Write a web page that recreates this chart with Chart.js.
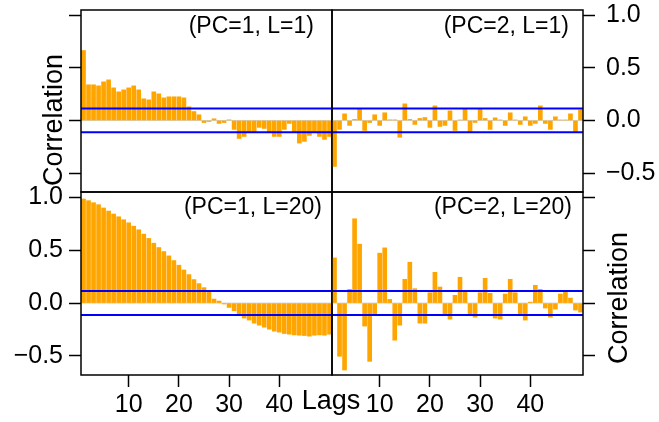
<!DOCTYPE html>
<html>
<head>
<meta charset="utf-8">
<script src="https://cdn.jsdelivr.net/npm/chart.js@4.4.1/dist/chart.umd.min.js"></script>
<style>
  html, body { margin: 0; padding: 0; background: #ffffff; }
  #wrap { position: relative; width: 659px; height: 422px; overflow: hidden; background: #ffffff; }
  #wrap canvas { position: absolute; left: 0; top: 0; }
</style>
</head>
<body>
<div id="wrap">
  <canvas id="pTL" width="659" height="422"></canvas>
  <canvas id="pTR" width="659" height="422"></canvas>
  <canvas id="pBL" width="659" height="422"></canvas>
  <canvas id="pBR" width="659" height="422"></canvas>
</div>
<script>
// ---------------- data ----------------
const lags = [1,2,3,4,5,6,7,8,9,10,11,12,13,14,15,16,17,18,19,20,21,22,23,24,25,
              26,27,28,29,30,31,32,33,34,35,36,37,38,39,40,41,42,43,44,45,46,47,48,49,50];

const acfPC1L1 = [0.665, 0.339, 0.339, 0.329, 0.367, 0.386, 0.310, 0.272, 0.291, 0.310,
                  0.329, 0.291, 0.206, 0.196, 0.272, 0.253, 0.215, 0.225, 0.225, 0.225,
                  0.215, 0.130, 0.085, 0.054, -0.020, -0.010, 0.016, -0.028, -0.020, 0.006,
                  -0.085, -0.171, -0.152, -0.114, -0.114, -0.066, -0.076, -0.114, -0.152, -0.152,
                  -0.085, -0.028, -0.114, -0.215, -0.199, -0.142, -0.114, -0.152, -0.180, -0.152];

const acfPC2L1 = [-0.437, -0.085, 0.063, -0.047, 0.010, 0.110, -0.095, -0.020, 0.054, -0.047,
                  0.073, 0.006, 0.006, -0.160, 0.158, 0.010, -0.038, 0.019, 0.028, -0.066,
                  0.139, -0.057, -0.047, 0.092, -0.095, 0.005, 0.111, -0.104, -0.019, 0.111,
                  0.019, -0.085, 0.025, 0.005, -0.047, 0.073, 0.005, -0.038, 0.035, -0.047,
                  -0.028, 0.139, -0.028, -0.085, 0.035, 0.005, 0.005, 0.063, -0.104, 0.101];

const acfPC1L20 = [0.984, 0.968, 0.949, 0.930, 0.899, 0.870, 0.842, 0.816, 0.788, 0.759,
                   0.727, 0.693, 0.652, 0.611, 0.566, 0.525, 0.487, 0.446, 0.402, 0.358,
                   0.313, 0.269, 0.222, 0.184, 0.146, 0.104, 0.038, 0.019, -0.009, -0.041,
                   -0.073, -0.111, -0.142, -0.161, -0.190, -0.209, -0.228, -0.247, -0.266, -0.275,
                   -0.288, -0.294, -0.301, -0.304, -0.307, -0.313, -0.304, -0.301, -0.304, -0.294];

const acfPC2L20 = [0.427, -0.503, -0.633, 0.130, 0.797, 0.557, -0.218, -0.551, -0.111, 0.472,
                   0.522, 0.035, -0.351, -0.209, 0.225, 0.386, 0.136, -0.190, -0.190, 0.098,
                   0.291, 0.152, -0.111, -0.152, 0.073, 0.244, 0.108, -0.111, -0.133, 0.098,
                   0.234, 0.092, -0.142, -0.152, 0.085, 0.225, 0.098, -0.111, -0.161, 0.009,
                   0.168, 0.130, -0.047, -0.133, -0.057, 0.085, 0.108, 0.047, -0.066, -0.085];

const ciBound = 0.113;
const xTickValues = [10, 20, 30, 40];
const yTickValues = [-0.5, 0.0, 0.5, 1.0];
const panelLabels = ['(PC=1, L=1)', '(PC=2, L=1)', '(PC=1, L=20)', '(PC=2, L=20)'];
const yTitle = 'Correlation';
const xTitle = 'Lags';

// ---------------- style / layout ----------------
const FONT = '"Liberation Sans", Arial, Helvetica, sans-serif';
const X_MIN = 0.5, X_MAX = 50.5;
const Y_MIN = -0.68, Y_MAX = 1.05;
const W = 659, H = 422;
const GX = [81, 332, 583];   // panel column edges
const GY = [10, 192, 375];   // panel row edges

Chart.defaults.font.family = FONT;
Chart.defaults.color = '#000';

const panelPlugin = {
  id: 'panelBox',
  afterDraw(chart, args, o) {
    const { ctx, chartArea: a } = chart;
    ctx.save();
    ctx.strokeStyle = '#000';
    ctx.lineWidth = 1.5;
    ctx.strokeRect(a.left, a.top, a.right - a.left, a.bottom - a.top);
    ctx.fillStyle = '#000';
    ctx.font = '23px ' + FONT;
    ctx.textAlign = 'right';
    ctx.textBaseline = 'alphabetic';
    ctx.fillText(o.label, a.right - o.labelRight, a.top + o.labelDrop);
    (o.titles || []).forEach(t => {
      ctx.save();
      ctx.font = '27px ' + FONT;
      ctx.textAlign = 'center';
      ctx.textBaseline = 'alphabetic';
      ctx.translate(t.x, t.y);
      if (t.rot) ctx.rotate(t.rot);
      ctx.fillText(t.text, 0, 0);
      ctx.restore();
    });
    ctx.restore();
  }
};

function fmtY(v) {
  return v.toFixed(1).replace('-', '\u2212');
}

function zeroPad(s) {
  s.paddingLeft = 0; s.paddingRight = 0; s.paddingTop = 0; s.paddingBottom = 0;
}

function makePanel(id, values, p) {
  const left = GX[p.col], right = GX[p.col + 1];
  const top = GY[p.row], bottom = GY[p.row + 1];
  const yW = p.yPos === 'left' ? left : (W - right);
  const xH = p.showX ? (H - bottom) : 0;
  const padding = {
    left: p.yPos === 'left' ? 0 : left,
    right: p.yPos === 'left' ? (W - right) : 0,
    top: top,
    bottom: p.showX ? 0 : (H - bottom)
  };
  const hline = (y, color, width, order) => ({
    type: 'line',
    data: [{ x: X_MIN, y: y }, { x: X_MAX, y: y }],
    borderColor: color, borderWidth: width, pointRadius: 0, order: order
  });
  return new Chart(document.getElementById(id), {
    type: 'bar',
    data: {
      datasets: [
        hline(ciBound, '#0000ff', 2, 0),
        hline(-ciBound, '#0000ff', 2, 0),
        {
          type: 'bar',
          data: lags.map((l, i) => ({ x: l, y: values[i] })),
          backgroundColor: '#ffa500',
          borderWidth: 0,
          barThickness: 4,
          order: 1
        },
        hline(0, '#d3d3d3', 1, 2)
      ]
    },
    options: {
      responsive: false,
      animation: false,
      devicePixelRatio: 1,
      layout: { padding: padding },
      plugins: {
        legend: { display: false },
        tooltip: { enabled: false },
        panelBox: { label: p.label, labelRight: p.labelRight, labelDrop: p.labelDrop, titles: p.titles }
      },
      scales: {
        x: {
          type: 'linear', min: X_MIN, max: X_MAX, display: p.showX, offset: false,
          afterBuildTicks: s => { s.ticks = xTickValues.map(v => ({ value: v })); },
          afterFit: s => { s.height = xH; zeroPad(s); },
          grid: { drawOnChartArea: false, drawTicks: true, tickLength: 12, tickColor: '#000', tickWidth: 1.5, offset: false },
          border: { display: false },
          ticks: { color: '#000', font: { size: 25 }, padding: 3, maxRotation: 0, autoSkip: false,
                   callback: v => String(v) }
        },
        y: {
          type: 'linear', position: p.yPos, min: Y_MIN, max: Y_MAX, offset: false,
          afterBuildTicks: s => { s.ticks = yTickValues.map(v => ({ value: v })); },
          afterFit: s => { s.width = yW; zeroPad(s); },
          grid: { drawOnChartArea: false, drawTicks: true, tickLength: 12, tickColor: '#000', tickWidth: 1.5 },
          border: { display: false },
          ticks: { color: '#000', font: { size: 25 }, padding: p.yPos === 'left' ? 6 : 11,
                   callback: v => (p.yLabels ? fmtY(v) : '') }
        }
      }
    },
    plugins: [panelPlugin]
  });
}

makePanel('pTL', acfPC1L1, {
  col: 0, row: 0, yPos: 'left', yLabels: false, showX: false,
  label: panelLabels[0], labelRight: 18, labelDrop: 23,
  titles: [{ text: yTitle, x: 62, y: 120, rot: -Math.PI / 2 }]
});
makePanel('pTR', acfPC2L1, {
  col: 1, row: 0, yPos: 'right', yLabels: true, showX: false,
  label: panelLabels[1], labelRight: 14, labelDrop: 23
});
makePanel('pBL', acfPC1L20, {
  col: 0, row: 1, yPos: 'left', yLabels: true, showX: true,
  label: panelLabels[2], labelRight: 10, labelDrop: 22,
  titles: [{ text: xTitle, x: 331, y: 409 }]
});
makePanel('pBR', acfPC2L20, {
  col: 1, row: 1, yPos: 'right', yLabels: false, showX: true,
  label: panelLabels[3], labelRight: 11, labelDrop: 22,
  titles: [{ text: yTitle, x: 627, y: 298, rot: -Math.PI / 2 }]
});
</script>
</body>
</html>
